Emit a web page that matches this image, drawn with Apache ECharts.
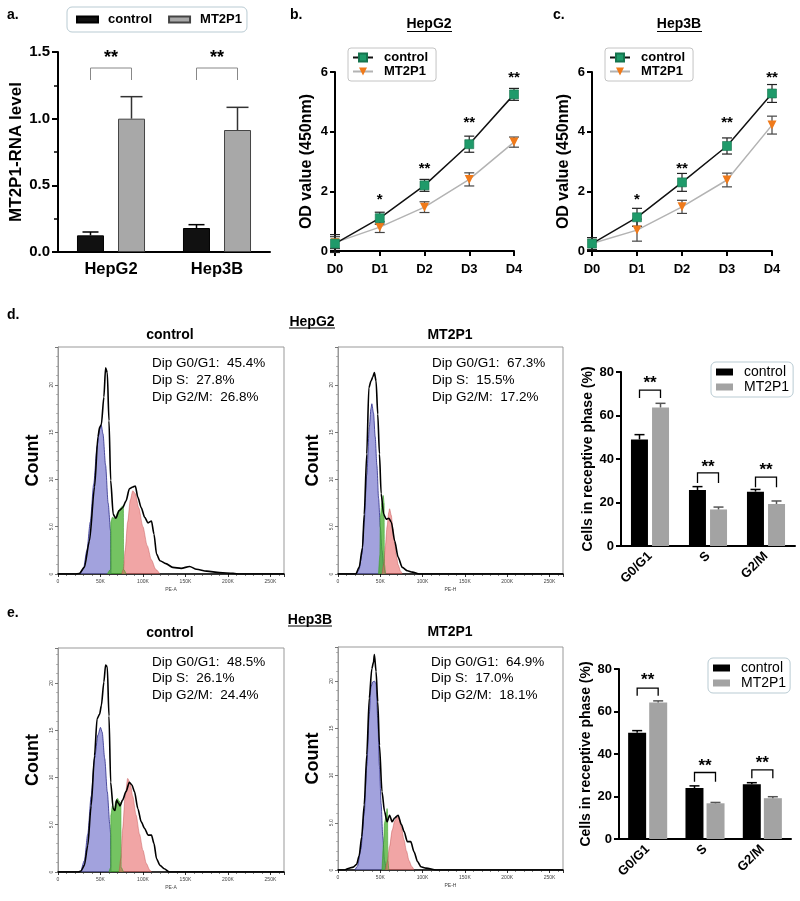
<!DOCTYPE html>
<html><head><meta charset="utf-8">
<script src="https://cdn.jsdelivr.net/npm/echarts@6/dist/echarts.min.js"></script>
<style>html,body{margin:0;padding:0;background:#fff}#c{width:800px;height:901px}</style>
</head><body><div id="c"></div>
<script>
const FONT = 'Liberation Sans, Arial, sans-serif';

// ---------- Panel a : MT2P1-RNA level ----------
const aCategories = ['HepG2', 'Hep3B'];
const aControl = [0.125, 0.18];
const aControlErr = [0.025, 0.025];
const aMT2P1 = [1.0, 0.915];
const aMT2P1Err = [0.165, 0.17];
const aBracketY = [1.38, 1.38];
const aBracketLegY = [1.29, 1.29];
const aStarY = [1.485, 1.485];
const aStarLabels = ['**', '**'];

// ---------- Panels b / c : OD value ----------
const days = ['D0', 'D1', 'D2', 'D3', 'D4'];
const bControl = [0.25, 1.1, 2.2, 3.58, 5.25];
const bControlErr = [0.3, 0.2, 0.2, 0.27, 0.2];
const bMT2P1 = [0.28, 0.8, 1.47, 2.4, 3.65];
const bMT2P1Err = [0.2, 0.18, 0.18, 0.22, 0.17];
const bStarDays = [1, 2, 3, 4];
const bStarY = [1.81, 2.86, 4.39, 5.9];
const bStarLabels = ['*', '**', '**', '**'];

const cControl = [0.25, 1.13, 2.3, 3.52, 5.28];
const cControlErr = [0.2, 0.3, 0.3, 0.27, 0.3];
const cMT2P1 = [0.25, 0.7, 1.48, 2.38, 4.22];
const cMT2P1Err = [0.2, 0.37, 0.22, 0.23, 0.3];
const cStarDays = [1, 2, 3, 4];
const cStarY = [1.82, 2.86, 4.39, 5.92];
const cStarLabels = ['*', '**', '**', '**'];

// ---------- Flow cytometry histograms (x in K units of PE, y = Count) ----------
const dCtrlOutline = [[0,0],[20,0],[25,0.05],[31,0.7],[37,3.5],[43,9.2],[47,14.5],[49,15.5],[51,15.8],[54,18.7],[56,21.8],[58,21.3],[60,16.2],[62,9.9],[65,6.3],[68,5.9],[72,6.7],[76,7.0],[80,7.7],[84,9.0],[88,9.2],[91,9.3],[94,8.1],[98,7.0],[102,6.0],[106,5.4],[110,5.6],[113,4.2],[116,2.1],[120,1.4],[127,1.1],[135,0.7],[145,0.6],[155,0.8],[163,0.5],[175,0.3],[190,0.15],[206,0.07],[214,0],[266,0]];
const dCtrlG1 = [[26,0],[30,0.6],[34,2.5],[38,5.5],[42,9.5],[46,13.5],[49,15.3],[51,15.7],[53,14.8],[56,11.5],[59,7.5],[62,4.5],[62.3,0]];
const dCtrlS = [[58,0],[62,0.5],[62.2,5.5],[64,6.0],[66,5.9],[68,6.0],[70,6.5],[72,6.8],[74,7.0],[76,7.2],[77,7.0],[77.2,0.5],[80,0]];
const dCtrlG2 = [[75,0],[77,0.5],[79,2.5],[82,5.5],[85,7.8],[88,8.8],[91,8.5],[95,7.0],[100,5.0],[105,3.0],[110,1.5],[115,0.5],[120,0]];

const dMTOutline = [[0,0],[21,0],[25,0.7],[29,2.8],[31,6.3],[34,12.7],[36.5,19.7],[39,20.4],[41,20.8],[43,21.3],[45,20.4],[47,16.9],[49,12.7],[51,8.5],[54,6.3],[57,5.8],[60,5.9],[63,5.5],[67,3.5],[71,1.8],[76,0.7],[82,0.35],[88,0.2],[96,0],[266,0]];
const dMTG1 = [[22,0],[25,0.5],[28,2],[31,5.5],[34,10.5],[37,15.5],[39,17.5],[40,18],[42,17],[44,14.5],[46,11.5],[48,8],[50,5],[52,2.5],[54,0.8],[56,0]];
const dMTS = [[48,0],[49.5,2],[50,6],[52,7.5],[53.5,8.3],[54.5,7.5],[55,1],[56,0]];
const dMTG2 = [[52,0],[54,1],[56,3],[58,5],[60,6.5],[61,6.9],[63,6.2],[65,4.8],[67,3.3],[69,2],[71,1],[74,0.3],[76,0]];

const eCtrlOutline = [[0,0],[24,0],[27,0.1],[31,0.7],[35,2.8],[39,7],[43,12.3],[46,16.2],[49,16.7],[51,17.6],[54,20.1],[56,21.9],[58,21.7],[60,16.5],[62,9.5],[65,6.7],[67,6.5],[69,7.6],[71,7.3],[73,7.0],[76,7.6],[80,8.5],[84,9.5],[87,9.2],[90,8.5],[94,6.7],[98,5.3],[102,4.6],[106,3.9],[110,3.9],[113,3.0],[116,1.4],[120,0.7],[125,0.35],[131,0],[266,0]];
const eCtrlG1 = [[27,0],[31,1.2],[35,4],[39,8],[43,12],[47,14.5],[50,15.3],[52,14.8],[55,12],[58,8.5],[61,5],[62,4],[62.3,0]];
const eCtrlS = [[60,0],[62,0.5],[62.2,6],[64,7.0],[66,6.5],[68,7.5],[70,7.8],[72,7.5],[74,7.3],[74.3,0.5],[77,0]];
const eCtrlG2 = [[72,0],[74,1.5],[76,4.5],[79,8],[82,9.9],[85,9.4],[88,8.0],[92,6.0],[96,4.0],[100,2.3],[104,0.9],[108,0.2],[110,0]];

const eMTOutline = [[0,0],[8,0],[12,0.15],[18,0.3],[22,0.6],[25,1.5],[28,3.5],[31,6.9],[34,12.2],[37,18.2],[40,21.3],[42,22],[43,22.8],[45,21],[47,17.8],[49,13.2],[52,8.3],[55,6.2],[58,5.1],[61,5.8],[64,5.1],[67,5.5],[71,5.8],[75,4.8],[78,4.1],[82,3.0],[86,3.0],[90,1.9],[94,0.9],[98,0.35],[104,0.2],[116,0],[266,0]];
const eMTG1 = [[20,0],[23,0.4],[27,2.2],[31,6],[34,11],[37,16.5],[39,19.4],[41,19.9],[43,20],[45,19.7],[47,16],[49,11],[51,7],[53,3.5],[55,1],[57,0]];
const eMTS = [[52,0],[54,3],[55,5],[57,5.8],[58,6.5],[58.5,6.2],[59,1],[60,0]];
const eMTG2 = [[56,0],[58,0.8],[61,2.5],[64,4.2],[67,5.2],[70,5.6],[72,5.5],[75,4.5],[78,3.2],[81,2.0],[84,1.0],[87,0.4],[90,0]];

const dTexts = { ctrl: ['Dip G0/G1:  45.4%', 'Dip S:  27.8%', 'Dip G2/M:  26.8%'], mt: ['Dip G0/G1:  67.3%', 'Dip S:  15.5%', 'Dip G2/M:  17.2%'] };
const eTexts = { ctrl: ['Dip G0/G1:  48.5%', 'Dip S:  26.1%', 'Dip G2/M:  24.4%'], mt: ['Dip G0/G1:  64.9%', 'Dip S:  17.0%', 'Dip G2/M:  18.1%'] };

// ---------- Cell-cycle bar panels ----------
const phases = ['G0/G1', 'S', 'G2/M'];
const dControl = [49, 25.7, 25];
const dControlErr = [2.2, 1.6, 1.0];
const dMT2P1 = [63.7, 16.8, 19.3];
const dMT2P1Err = [1.9, 1.1, 1.4];
const dBracketY = [71.7, 33.6, 31.7];
const dBracketLegY = [68, 29, 27];
const dStarY = [76.8, 38, 36.8];

const eControl = [50, 24, 25.8];
const eControlErr = [1.0, 1.0, 0.7];
const eMT2P1 = [64.2, 16.8, 19.2];
const eMT2P1Err = [0.8, 0.4, 0.7];
const eBracketY = [71, 31.3, 32.5];
const eBracketLegY = [67.4, 27, 28.6];
const eStarY = [76.5, 36, 37.6];
const barStarLabels = ['**', '**', '**'];

// ---------- helpers ----------
function errRender(offset, capHalf, upOnly, color, lw) {
  return function (params, api) {
    const x = api.value(0), v = api.value(1), e = api.value(2);
    const pT = api.coord([x, v + e]);
    const pB = api.coord([x, upOnly ? v : v - e]);
    const cx = pT[0] + offset;
    const ch = [
      { type: 'line', shape: { x1: cx, y1: pT[1], x2: cx, y2: pB[1] }, style: { stroke: color, lineWidth: lw } },
      { type: 'line', shape: { x1: cx - capHalf, y1: pT[1], x2: cx + capHalf, y2: pT[1] }, style: { stroke: color, lineWidth: lw } }
    ];
    if (!upOnly) ch.push({ type: 'line', shape: { x1: cx - capHalf, y1: pB[1], x2: cx + capHalf, y2: pB[1] }, style: { stroke: color, lineWidth: lw } });
    return { type: 'group', children: ch };
  };
}
function bracketRender(half, color, lw) {
  return function (params, api) {
    const i = api.value(0);
    const pB = api.coord([i, api.value(1)]);
    const pL = api.coord([i, api.value(2)]);
    const cx = pB[0];
    return { type: 'polyline', shape: { points: [[cx - half, pL[1]], [cx - half, pB[1]], [cx + half, pB[1]], [cx + half, pL[1]]] },
      style: { stroke: color, fill: null, lineWidth: lw } };
  };
}
function starRender(labels, font, dy) {
  return function (params, api) {
    const p = api.coord([api.value(0), api.value(1)]);
    return { type: 'text', x: p[0], y: p[1] + dy,
      style: { text: labels[params.dataIndex], font: font, fill: '#000', align: 'center', verticalAlign: 'middle', textAlign: 'center', textVerticalAlign: 'middle' } };
  };
}
function zip3(a, b) { return a.map((v, i) => [i, v, b[i]]); }
function custom(idx, data, render, z) {
  return { type: 'custom', xAxisIndex: idx, yAxisIndex: idx, data: data, renderItem: render, z: z || 10, silent: true, clip: false };
}
function hist(idx, data, fill, stroke, lw, z) {
  const s = { type: 'line', xAxisIndex: idx, yAxisIndex: idx, data: data, showSymbol: false, symbol: 'none',
    smooth: 0.25, smoothMonotone: 'x', lineStyle: { color: stroke, width: lw }, z: z, silent: true };
  if (fill) s.areaStyle = { color: fill, opacity: 1 };
  return s;
}
const blackLine = { lineStyle: { color: '#000', width: 2 } };
const boldTick = (size) => ({ fontFamily: FONT, fontWeight: 'bold', fontSize: size, color: '#000' });

function histX(gi, name) {
  return { type: 'value', gridIndex: gi, min: 0, max: 266, interval: 50,
    axisLine: { lineStyle: { color: '#000', width: 1.6 } },
    axisTick: { show: true, length: 3, lineStyle: { color: '#000', width: 0.8 } },
    minorTick: { show: true, splitNumber: 5, length: 2, lineStyle: { color: '#333', width: 0.6 } },
    axisLabel: { fontSize: 5, color: '#444', fontFamily: FONT, margin: 5, showMaxLabel: false,
      formatter: v => (v % 50 === 0 ? (v === 0 ? '0' : v + 'K') : '') },
    splitLine: { show: false },
    name: name, nameLocation: 'middle', nameGap: 13, nameTextStyle: { fontSize: 5, color: '#444', fontFamily: FONT } };
}
function histY(gi, max) {
  return { type: 'value', gridIndex: gi, min: 0, max: max, interval: 5,
    axisLine: { show: true, lineStyle: { color: '#999', width: 1 } },
    axisTick: { show: true, length: 3, lineStyle: { color: '#555', width: 0.8 } },
    minorTick: { show: true, splitNumber: 5, length: 2, lineStyle: { color: '#777', width: 0.5 } },
    axisLabel: { fontSize: 5, color: '#444', fontFamily: FONT, margin: 4, rotate: 90, showMaxLabel: false,
      formatter: v => (v % 5 === 0 ? (v === 5 ? '5.0' : String(v)) : '') },
    splitLine: { show: false },
    name: 'Count', nameLocation: 'middle', nameGap: 16, nameRotate: 90,
    nameTextStyle: { fontFamily: FONT, fontWeight: 'bold', fontSize: 18, color: '#000' } };
}
function barX(gi) {
  return { type: 'category', gridIndex: gi, data: phases, axisLine: blackLine,
    axisTick: { alignWithLabel: true, length: 5, lineStyle: { color: '#000', width: 2 } },
    axisLabel: Object.assign(boldTick(13), { rotate: 45, margin: 8 }) };
}
function barY(gi, gap) {
  return { type: 'value', gridIndex: gi, min: 0, max: 80, interval: 20, axisLine: Object.assign({ show: true }, blackLine),
    axisTick: { show: true, length: 5, lineStyle: { color: '#000', width: 2 } },
    axisLabel: Object.assign(boldTick(13), { margin: 7 }), splitLine: { show: false },
    name: 'Cells in receptive phase (%)', nameLocation: 'middle', nameRotate: 90, nameGap: gap,
    nameTextStyle: boldTick(14) };
}
function lineX(gi) {
  return { type: 'category', gridIndex: gi, data: days, boundaryGap: false, axisLine: blackLine,
    axisTick: { length: 5, lineStyle: { color: '#000', width: 2 } },
    axisLabel: Object.assign(boldTick(13), { margin: 12 }) };
}
function lineY(gi) {
  return { type: 'value', gridIndex: gi, min: 0, max: 6, interval: 2, axisLine: Object.assign({ show: true }, blackLine),
    axisTick: { show: true, length: 5, lineStyle: { color: '#000', width: 2 } },
    axisLabel: Object.assign(boldTick(13), { margin: 7 }), splitLine: { show: false },
    name: 'OD value (450nm)', nameLocation: 'middle', nameRotate: 90, nameGap: 20, nameTextStyle: boldTick(16) };
}
function lineSeries(prefix, idx, ctrl, mt) {
  return [
    { type: 'line', name: prefix + '|control', xAxisIndex: idx, yAxisIndex: idx, data: ctrl, symbol: 'rect', symbolSize: 9,
      itemStyle: { color: '#1f9a6a', borderColor: '#15744e', borderWidth: 0.6 }, lineStyle: { color: '#111', width: 1.5 }, z: 6 },
    { type: 'line', name: prefix + '|MT2P1', xAxisIndex: idx, yAxisIndex: idx, data: mt, symbol: 'triangle', symbolRotate: 180, symbolSize: 9,
      itemStyle: { color: '#f07a1a' }, lineStyle: { color: '#b3b3b3', width: 1.5 }, z: 5 }
  ];
}
function legendBox(names, left, top, opts) {
  return Object.assign({
    data: names, left: left, top: top, selectedMode: false, formatter: n => n.split('|')[1],
    borderColor: '#b9cbd3', borderWidth: 1, borderRadius: 5, backgroundColor: '#fff'
  }, opts);
}

const series = [];
// a
series.push({ type: 'bar', name: 'a|control', xAxisIndex: 0, yAxisIndex: 0, data: aControl, barWidth: 27, barGap: '52%',
  itemStyle: { color: '#111', borderColor: '#000', borderWidth: 1 } });
series.push({ type: 'bar', name: 'a|MT2P1', xAxisIndex: 0, yAxisIndex: 0, data: aMT2P1, barWidth: 27,
  itemStyle: { color: '#a8a8a8', borderColor: '#444', borderWidth: 1 } });
series.push(custom(0, zip3(aControl, aControlErr), errRender(-20.5, 8, true, '#000', 1.5)));
series.push(custom(0, zip3(aMT2P1, aMT2P1Err), errRender(20.5, 11, true, '#333', 1.5)));
series.push(custom(0, zip3(aBracketY, aBracketLegY), bracketRender(20.5, '#888', 1)));
series.push(custom(0, aStarY.map((y, i) => [i, y]), starRender(aStarLabels, 'bold 18px ' + FONT, 4)));
// b
series.push(...lineSeries('b', 1, bControl, bMT2P1));
series.push(custom(1, zip3(bControl, bControlErr), errRender(0, 5, false, '#222', 1.2), 4));
series.push(custom(1, zip3(bMT2P1, bMT2P1Err), errRender(0, 5, false, '#444', 1.2), 3));
series.push(custom(1, bStarDays.map((d, i) => [d, bStarY[i]]), starRender(bStarLabels, 'bold 15px ' + FONT, 3)));
// c
series.push(...lineSeries('c', 2, cControl, cMT2P1));
series.push(custom(2, zip3(cControl, cControlErr), errRender(0, 5, false, '#222', 1.2), 4));
series.push(custom(2, zip3(cMT2P1, cMT2P1Err), errRender(0, 5, false, '#444', 1.2), 3));
series.push(custom(2, cStarDays.map((d, i) => [d, cStarY[i]]), starRender(cStarLabels, 'bold 15px ' + FONT, 3)));
// histograms
const BLUE = 'rgba(105,105,200,0.62)', GREEN = 'rgba(70,175,45,0.75)', RED = 'rgba(232,105,105,0.6)';
function histSet(idx, outline, g1, s, g2) {
  series.push(hist(idx, g1, BLUE, '#2a2a8a', 0.8, 2));
  series.push(hist(idx, s, GREEN, '#3aa02a', 0.6, 3));
  series.push(hist(idx, g2, RED, 'rgba(190,70,70,0.7)', 0.6, 3));
  series.push(hist(idx, outline, null, '#000', 1.6, 5));
}
histSet(3, dCtrlOutline, dCtrlG1, dCtrlS, dCtrlG2);
histSet(4, dMTOutline, dMTG1, dMTS, dMTG2);
histSet(6, eCtrlOutline, eCtrlG1, eCtrlS, eCtrlG2);
histSet(7, eMTOutline, eMTG1, eMTS, eMTG2);
// d / e bars
function barSet(prefix, idx, ctrl, ctrlErr, mt, mtErr, bw, gap, bY, bL, sY) {
  const off = (bw + gap) / 2;
  series.push({ type: 'bar', name: prefix + '|control', xAxisIndex: idx, yAxisIndex: idx, data: ctrl, barWidth: bw,
    barGap: Math.round(gap / bw * 100) + '%', itemStyle: { color: '#000' } });
  series.push({ type: 'bar', name: prefix + '|MT2P1', xAxisIndex: idx, yAxisIndex: idx, data: mt, barWidth: bw,
    itemStyle: { color: '#a3a3a3' } });
  series.push(custom(idx, zip3(ctrl, ctrlErr), errRender(-off, 5, true, '#000', 1.5)));
  series.push(custom(idx, zip3(mt, mtErr), errRender(off, 5, true, '#555', 1.5)));
  series.push(custom(idx, zip3(bY, bL), bracketRender(off, '#000', 1.3)));
  series.push(custom(idx, sY.map((y, i) => [i, y]), starRender(barStarLabels, 'bold 17px ' + FONT, 4)));
}
barSet('d', 5, dControl, dControlErr, dMT2P1, dMT2P1Err, 17, 4, dBracketY, dBracketLegY, dStarY);
barSet('e', 8, eControl, eControlErr, eMT2P1, eMT2P1Err, 18, 3, eBracketY, eBracketLegY, eStarY);

// ---------- text graphics ----------
function txt(x, y, text, font, align) {
  return { type: 'text', x: x, y: y, silent: true,
    style: { text: text, font: font, fill: '#000', align: align || 'center', verticalAlign: 'middle',
      textAlign: align || 'center', textVerticalAlign: 'middle' } };
}
function uline(x1, x2, y) {
  return { type: 'line', silent: true, shape: { x1: x1, y1: y, x2: x2, y2: y }, style: { stroke: '#000', lineWidth: 1.2 } };
}
const B14 = 'bold 14px ' + FONT, R14 = '13.5px ' + FONT;
const graphics = [
  txt(7, 15, 'a.', B14, 'left'), txt(290, 15, 'b.', B14, 'left'), txt(553, 15, 'c.', B14, 'left'),
  txt(429, 24, 'HepG2', B14), uline(407, 452, 31.5),
  txt(679, 24, 'Hep3B', B14), uline(657, 702, 31.5),
  txt(7, 315, 'd.', B14, 'left'),
  txt(170, 335, 'control', B14), txt(450, 335, 'MT2P1', B14),
  txt(312, 322, 'HepG2', B14), uline(289, 335, 328),
  txt(7, 613, 'e.', B14, 'left'),
  txt(170, 633, 'control', B14), txt(450, 632, 'MT2P1', B14),
  txt(310, 620, 'Hep3B', B14), uline(288, 332, 626)
];
dTexts.ctrl.forEach((t, i) => graphics.push(txt(152, 363 + i * 17, t, R14, 'left')));
dTexts.mt.forEach((t, i) => graphics.push(txt(432, 363 + i * 17, t, R14, 'left')));
eTexts.ctrl.forEach((t, i) => graphics.push(txt(152, 662 + i * 16.7, t, R14, 'left')));
eTexts.mt.forEach((t, i) => graphics.push(txt(431, 662 + i * 16.7, t, R14, 'left')));

const option = {
  animation: false,
  backgroundColor: '#fff',
  textStyle: { fontFamily: FONT },
  grid: [
    { left: 58, top: 52, width: 212, height: 200 },
    { left: 335, top: 72, width: 179, height: 179 },
    { left: 592, top: 72, width: 180, height: 179 },
    { left: 58, top: 347, width: 226, height: 227, show: true, borderColor: '#999', borderWidth: 1 },
    { left: 338, top: 347, width: 225, height: 227, show: true, borderColor: '#999', borderWidth: 1 },
    { left: 621, top: 372, width: 174, height: 174 },
    { left: 58, top: 648, width: 226, height: 224, show: true, borderColor: '#999', borderWidth: 1 },
    { left: 338, top: 647, width: 225, height: 223, show: true, borderColor: '#999', borderWidth: 1 },
    { left: 619, top: 669, width: 172, height: 170 }
  ],
  xAxis: [
    { type: 'category', gridIndex: 0, data: aCategories, axisLine: blackLine,
      axisTick: { alignWithLabel: true, length: 6, lineStyle: { color: '#000', width: 2 } },
      axisLabel: Object.assign(boldTick(16.5), { margin: 9 }) },
    lineX(1), lineX(2),
    histX(3, 'PE-A'), histX(4, 'PE-H'),
    barX(5),
    histX(6, 'PE-A'), histX(7, 'PE-H'),
    barX(8)
  ],
  yAxis: [
    { type: 'value', gridIndex: 0, min: 0, max: 1.5, interval: 0.5, axisLine: Object.assign({ show: true }, blackLine),
      axisTick: { show: true, length: 6, lineStyle: { color: '#000', width: 2 } },
      minorTick: { show: true, splitNumber: 2, length: 4, lineStyle: { color: '#000', width: 1.5 } },
      axisLabel: Object.assign(boldTick(15), { margin: 8, formatter: v => v.toFixed(1) }), splitLine: { show: false },
      name: 'MT2P1-RNA level', nameLocation: 'middle', nameRotate: 90, nameGap: 31, nameTextStyle: boldTick(17) },
    lineY(1), lineY(2),
    histY(3, 24), histY(4, 24),
    barY(5, 26),
    histY(6, 23.7), histY(7, 23.6),
    barY(8, 24)
  ],
  legend: [
    legendBox(['a|control', 'a|MT2P1'], 67, 7, { orient: 'horizontal', icon: 'rect', itemWidth: 21, itemHeight: 6, itemGap: 16,
      padding: [6, 5, 6, 9], textStyle: { fontFamily: FONT, fontWeight: 'bold', fontSize: 13, color: '#000', padding: [0, 0, 0, 5] } }),
    legendBox(['b|control', 'b|MT2P1'], 348, 48, { orient: 'vertical', itemWidth: 20, itemHeight: 10, itemGap: 1, borderColor: '#c4c4c4', borderRadius: 3,
      padding: [3, 8, 3, 4], textStyle: { fontFamily: FONT, fontWeight: 'bold', fontSize: 13, color: '#000', padding: [0, 0, 0, 6] } }),
    legendBox(['c|control', 'c|MT2P1'], 605, 48, { orient: 'vertical', itemWidth: 20, itemHeight: 10, itemGap: 1, borderColor: '#c4c4c4', borderRadius: 3,
      padding: [3, 8, 3, 4], textStyle: { fontFamily: FONT, fontWeight: 'bold', fontSize: 13, color: '#000', padding: [0, 0, 0, 6] } }),
    legendBox(['d|control', 'd|MT2P1'], 711, 362, { orient: 'vertical', icon: 'rect', itemWidth: 17, itemHeight: 7, itemGap: 1,
      padding: [3, 4, 3, 5], textStyle: { fontFamily: FONT, fontSize: 14, color: '#000', padding: [0, 0, 0, 6] } }),
    legendBox(['e|control', 'e|MT2P1'], 708, 658, { orient: 'vertical', icon: 'rect', itemWidth: 17, itemHeight: 7, itemGap: 1,
      padding: [3, 4, 3, 5], textStyle: { fontFamily: FONT, fontSize: 14, color: '#000', padding: [0, 0, 0, 6] } })
  ],
  graphic: { elements: graphics },
  series: series
};

const chart = echarts.init(document.getElementById('c'), null, { renderer: 'canvas', width: 800, height: 901 });
chart.setOption(option);
</script>
</body></html>
